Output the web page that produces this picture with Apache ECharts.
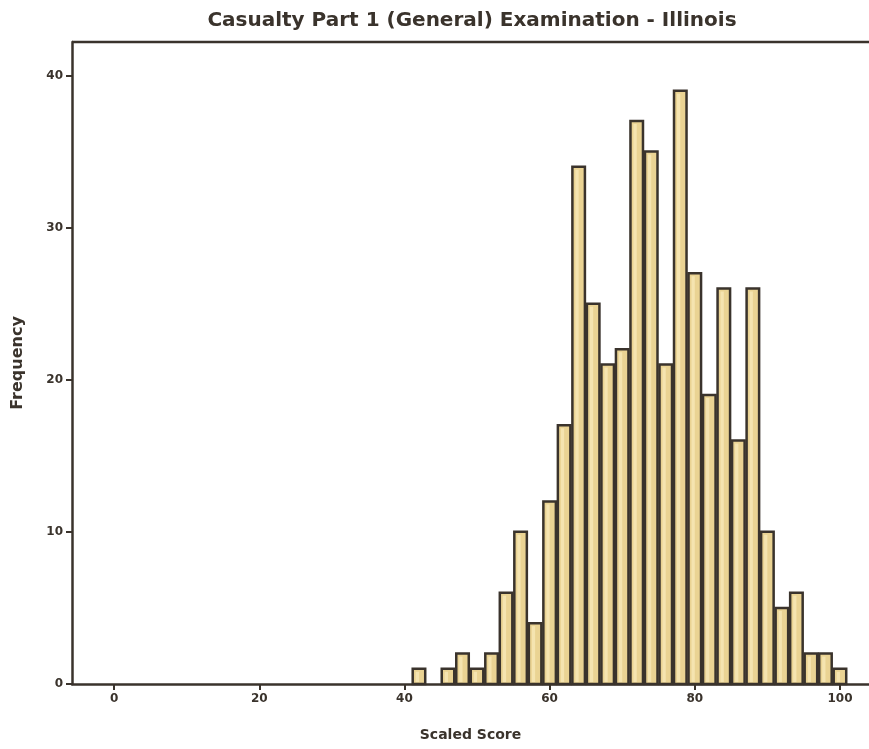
<!DOCTYPE html>
<html>
<head>
<meta charset="utf-8">
<script src="https://cdn.jsdelivr.net/npm/echarts@6/dist/echarts.min.js"></script>
<style>html,body{margin:0;padding:0;background:#fff}#c{width:869px;height:749px}</style>
</head>
<body>
<div id="c"></div>
<script>
var binCenters = [42,46,48,50,52,54,56,58,60,62,64,66,68,70,72,74,76,78,80,82,84,86,88,90,92,94,96,98,100];
var frequencies = [1,1,2,1,2,6,10,4,12,17,34,25,21,22,37,35,21,39,27,19,26,16,26,10,5,6,2,2,1];
var xTicks = [0,20,40,60,80,100];
var yTicks = [0,10,20,30,40];
var binWidth = 2;

var data = binCenters.map(function(c,i){return [c, frequencies[i]];});
var ink = '#3a332c';
var font = 'DejaVu Sans, Liberation Sans, Arial';
var chart = echarts.init(document.getElementById('c'));
chart.setOption({
  animation:false,
  title:{text:'Casualty Part 1 (General) Examination - Illinois',left:467,textAlign:'center',top:6,
    textStyle:{fontFamily:font,fontWeight:'bold',fontSize:20,color:ink}},
  grid:{left:72,right:0,top:42,bottom:65,show:true,borderColor:'transparent'},
  xAxis:{type:'value',min:-5.8,max:104,
    name:'Scaled Score',nameLocation:'middle',nameGap:44,
    nameTextStyle:{fontFamily:font,fontWeight:'bold',fontSize:14,color:ink},
    axisLine:{show:true,onZero:false,lineStyle:{color:ink,width:2.5}},
    axisTick:{show:true,customValues:xTicks,length:6,lineStyle:{color:ink,width:2}},
    axisLabel:{customValues:xTicks,margin:9,fontFamily:font,fontWeight:'bold',fontSize:12,color:ink},
    splitLine:{show:false}},
  yAxis:{type:'value',min:0,max:42.2,
    name:'Frequency',nameLocation:'middle',nameGap:46,
    nameTextStyle:{fontFamily:font,fontWeight:'bold',fontSize:16,color:ink},
    axisLine:{show:true,onZero:false,lineStyle:{color:ink,width:2.5}},
    axisTick:{show:true,customValues:yTicks,length:6,lineStyle:{color:ink,width:2}},
    axisLabel:{customValues:yTicks,margin:9,fontFamily:font,fontWeight:'bold',fontSize:12,color:ink},
    splitLine:{show:false}},
  graphic:[{type:'line',shape:{x1:72,y1:42,x2:869,y2:42},style:{stroke:ink,lineWidth:2.5},z:10}],
  series:[{
    type:'custom',
    data:data,
    encode:{x:0,y:1},
    renderItem:function(params,api){
      var c = api.value(0), v = api.value(1);
      var p1 = api.coord([c - binWidth/2, v]);
      var p2 = api.coord([c + binWidth/2, 0]);
      var outer = {type:'rect',shape:{x:p1[0]+1,y:p1[1],width:p2[0]-p1[0]-2,height:p2[1]-p1[1]},
        style:{fill:'#ead393',stroke:ink,lineWidth:2.5}};
      var inner = {type:'rect',shape:{x:p1[0]+4,y:p1[1]+3,width:Math.max(0,(p2[0]-p1[0])/2-4),height:Math.max(0,p2[1]-p1[1]-5)},
        style:{fill:'#f5e4b0'}};
      return {type:'group',children:[outer,inner]};
    }
  }]
});
</script>
</body>
</html>
